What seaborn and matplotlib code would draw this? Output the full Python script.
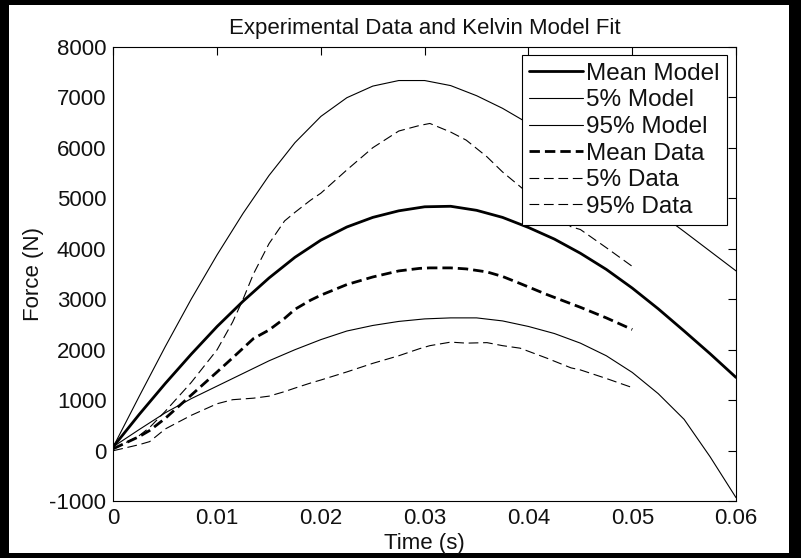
import matplotlib
matplotlib.use('Agg')
import matplotlib.pyplot as plt
import seaborn as sns
import pandas as pd
from matplotlib.patches import Rectangle


# model curves
model_time = [0, 0.0025, 0.005, 0.0075, 0.01, 0.0125, 0.015, 0.0175, 0.02, 0.0225,
              0.025, 0.0275, 0.03, 0.0325, 0.035, 0.0375, 0.04, 0.0425, 0.045, 0.0475,
              0.05, 0.0525, 0.055, 0.0575, 0.06]
mean_model = [80, 720, 1330, 1910, 2460, 2960, 3420, 3830, 4170, 4430,
              4620, 4750, 4830, 4840, 4760, 4620, 4420, 4190, 3910, 3590,
              3220, 2810, 2370, 1920, 1450]
model_5 = [80, 420, 750, 1030, 1280, 1530, 1780, 2000, 2200, 2370,
           2480, 2560, 2610, 2630, 2630, 2570, 2460, 2320, 2130, 1880,
           1550, 1130, 620, -120, -930]
model_95 = [80, 1080, 2060, 3000, 3880, 4700, 5450, 6100, 6620, 6990,
            7220, 7330, 7330, 7230, 7030, 6780, 6480, 6170, 5830, 5470,
            5100, 4720, 4340, 3950, 3560]

# experimental data curves
data_time = [0, 0.0025, 0.0035, 0.005, 0.0075, 0.01, 0.0115, 0.0125, 0.0135, 0.015,
             0.0165, 0.0175, 0.019, 0.02, 0.0225, 0.025, 0.0275, 0.0295, 0.0305,
             0.0325, 0.034, 0.036, 0.0375, 0.0392, 0.0418, 0.0441, 0.045, 0.0475, 0.05]
mean_data = [40, 280, 400, 640, 1100, 1560, 1840, 2030, 2220, 2390,
             2620, 2800, 2980, 3080, 3290, 3440, 3560, 3610, 3620,
             3620, 3600, 3540, 3450, 3310, 3090, 2910, 2840, 2630, 2400]
data_5 = [0, 120, 180, 430, 700, 930, 1010, 1025, 1040, 1080,
          1170, 1240, 1340, 1400, 1560, 1730, 1880, 2020, 2080,
          2150, 2130, 2140, 2080, 2030, 1830, 1640, 1600, 1430, 1250]
data_95 = [30, 300, 460, 780, 1350, 2000, 2550, 3000, 3500, 4100,
           4550, 4720, 4960, 5100, 5560, 6000, 6330, 6440, 6480,
           6310, 6150, 5820, 5520, 5230, 4780, 4435, 4380, 4020, 3650]

x_ticks = [0, 0.01, 0.02, 0.03, 0.04, 0.05, 0.06]
y_ticks = [-1000, 0, 1000, 2000, 3000, 4000, 5000, 6000, 7000, 8000]


sns.set_theme(style='white')
plt.rcParams['font.family'] = ['Liberation Sans', 'DejaVu Sans']
plt.rcParams['font.size'] = 16
plt.rcParams['lines.scale_dashes'] = False

fig = plt.figure(figsize=(8.01, 5.58), dpi=100, facecolor='black')
# white canvas inside the black frame of the screenshot
bg = Rectangle((9 / 801, 5 / 558), 780 / 801, 548 / 558, transform=fig.transFigure,
               facecolor='white', edgecolor='none', zorder=-10)
fig.add_artist(bg)
ax = fig.add_axes([0.1415, 0.1018, 0.9189 - 0.1415, 0.9163 - 0.1018])
ax.set_zorder(1)
ax.set_facecolor('white')

thin_dash = (0, (7.0, 3.4))
thick_dash = (0, (7.5, 3.6))

sns.lineplot(x=model_time, y=mean_model, ax=ax, color='black', linewidth=2.0, label='Mean Model')
sns.lineplot(x=model_time, y=model_5, ax=ax, color='black', linewidth=0.8, label='5% Model')
sns.lineplot(x=model_time, y=model_95, ax=ax, color='black', linewidth=0.8, label='95% Model')
sns.lineplot(x=data_time, y=mean_data, ax=ax, color='black', linewidth=2.0,
             linestyle=thick_dash, label='Mean Data')
sns.lineplot(x=data_time, y=data_95, ax=ax, color='black', linewidth=0.8,
             linestyle=thin_dash, label='5% Data')
sns.lineplot(x=data_time, y=data_5, ax=ax, color='black', linewidth=0.8,
             linestyle=thin_dash, label='95% Data')

ax.set_xlim(0, 0.06)
ax.set_ylim(-1000, 8000)
ax.set_xticks(x_ticks)
ax.set_xticklabels(['%g' % v for v in x_ticks])
ax.set_yticks(y_ticks)
ax.set_yticklabels(['%d' % v for v in y_ticks])
ax.tick_params(direction='in', length=6, width=0.8, color='black', top=True, right=True,
               labelsize=16, pad=5, labelcolor='#111111')
for s in ax.spines.values():
    s.set_color('black')
    s.set_linewidth(0.8)

ax.set_xlabel('Time (s)', fontsize=16, color='#111111', labelpad=3)
ax.set_ylabel('Force (N)', fontsize=16, color='#111111', labelpad=4)
ax.set_title('Experimental Data and Kelvin Model Fit', fontsize=16, color='#111111', pad=9)

leg = ax.legend(loc='upper right', fancybox=False, framealpha=1, edgecolor='black',
                fontsize=17.5, handlelength=2.2, handletextpad=0.15, labelspacing=0.19,
                borderpad=0.3, borderaxespad=0.36)
leg.get_frame().set_linewidth(0.8)
for t in leg.get_texts():
    t.set_color('#111111')

plt.savefig('out.png', dpi=100, facecolor=fig.get_facecolor())
